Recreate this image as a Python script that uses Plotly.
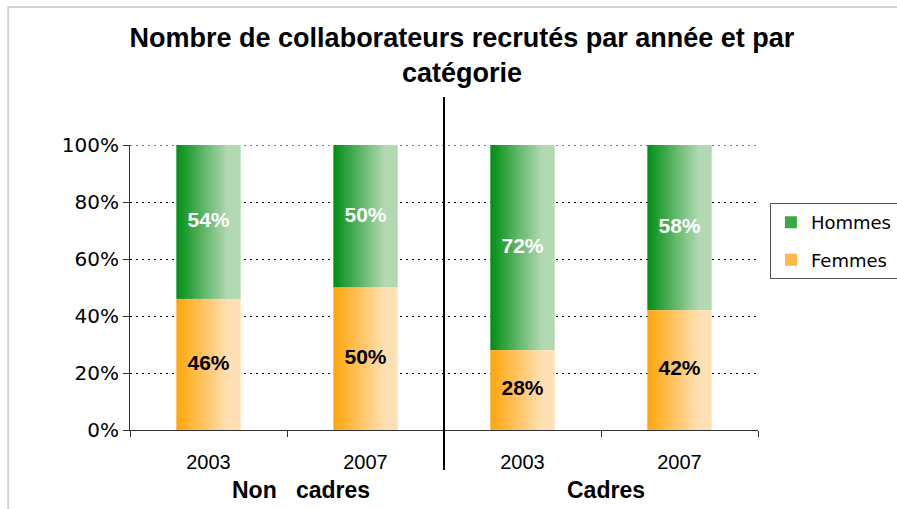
import plotly.graph_objects as go

# data
years = ["2003", "2007", "2003", "2007"]
groups = ["Non   cadres", "Cadres"]
femmes = [46, 50, 28, 42]
hommes = [54, 50, 72, 58]
yticks = [0, 20, 40, 60, 80, 100]

title = "Nombre de collaborateurs recrutés par année et par<br>catégorie"

xpos = list(range(len(years)))
bar_w = 0.41
n_slices = 24

green_dark, green_light = (0, 142, 20), (178, 217, 178)
orange_dark, orange_light = (255, 165, 10), (255, 224, 180)

sans = "Liberation Sans, Arial"


def mix(c1, c2, t):
    t = min(1.0, t / 0.8)
    return "rgb(%d,%d,%d)" % tuple(round(a + (b - a) * t) for a, b in zip(c1, c2))


fig = go.Figure()

# bars drawn as thin vertical slices to fake the Excel gradient fill
for name, vals, base, cols, rank in [
    ("Hommes", hommes, femmes, (green_dark, green_light), 1),
    ("Femmes", femmes, [0] * len(femmes), (orange_dark, orange_light), 2),
]:
    for i in range(n_slices):
        t = (i + 0.5) / n_slices
        fig.add_trace(go.Bar(
            x=xpos, y=vals, base=base,
            width=bar_w / n_slices * (1.0 if i == n_slices - 1 else 1.3),
            offset=-bar_w / 2 + i * bar_w / n_slices,
            marker=dict(color=mix(*cols, t), line_width=0),
            name=name, legendgroup=name, legendrank=rank,
            showlegend=(i == n_slices // 4),
            hoverinfo="skip",
        ))

fig.add_trace(go.Scatter(
    x=xpos, y=[b + v / 2 for b, v in zip(femmes, hommes)], mode="text",
    text=[f"{v}%" for v in hommes], showlegend=False, hoverinfo="skip",
    textfont=dict(family=sans, size=21, color="white", weight="bold"),
))
fig.add_trace(go.Scatter(
    x=xpos, y=[v / 2 for v in femmes], mode="text",
    text=[f"{v}%" for v in femmes], showlegend=False, hoverinfo="skip",
    textfont=dict(family=sans, size=21, color="black", weight="bold"),
))

fig.update_layout(
    width=897, height=509,
    barmode="overlay",
    plot_bgcolor="white", paper_bgcolor="white",
    margin=dict(l=130, r=139, t=145, b=79, autoexpand=False),
    title=dict(text=title, x=0.515, xanchor="center", y=0.908, yanchor="middle",
               font=dict(family=sans, size=27, color="black", weight="bold")),
    legend=dict(x=1.019, y=0.796, xanchor="left", yanchor="top",
                bordercolor="#555", borderwidth=1, bgcolor="white",
                font=dict(family="DejaVu Sans", size=18, color="black"),
                itemwidth=30, tracegroupgap=11, traceorder="grouped"),
    showlegend=True,
)

fig.update_xaxes(
    range=[-0.5, 3.5], tickvals=xpos, ticktext=years, ticks="",
    ticklabelstandoff=14,
    tickfont=dict(family=sans, size=20, color="black"),
    showline=True, linecolor="#333", linewidth=1, showgrid=False, zeroline=False,
    minor=dict(ticks="outside", tickvals=[-0.5, 0.5, 1.5, 2.5, 3.5],
               ticklen=6, tickcolor="#333", showgrid=False),
)
fig.update_yaxes(
    range=[0, 100], tickvals=yticks, ticktext=[f"{v}%" for v in yticks],
    ticks="outside", ticklen=6,
    tickcolor="#333", tickfont=dict(family="DejaVu Sans", size=20, color="black"),
    showline=True, linecolor="#333", linewidth=1, zeroline=False,
    showgrid=True, gridcolor="black", gridwidth=1, griddash="2px,4px",
)

# top gridline (plotly drops the one lying on the plot edge)
fig.add_shape(type="line", xref="paper", x0=0, x1=1, yref="y", y0=yticks[-1], y1=yticks[-1],
              line=dict(color="black", width=1, dash="2px,4px"), layer="below")

# group labels under the years
for gx, gtext in zip([0.59, 2.53], groups):
    fig.add_annotation(x=gx, xref="x", y=-0.21, yref="paper", yanchor="middle",
                       text=gtext, showarrow=False,
                       font=dict(family=sans, size=23, color="black", weight="bold"))

# separator between the two groups
fig.add_shape(type="line", xref="x", x0=1.5, x1=1.5, yref="paper", y0=-0.14, y1=1.168,
              line=dict(color="black", width=2))
# chart area border
fig.add_shape(type="rect", xref="paper", yref="paper", x0=-0.194, x1=2, y0=-1, y1=1.484,
              line=dict(color="#d4d4d4", width=2), layer="below")

fig.write_html("out.html", config={"displayModeBar": False},
               post_script="document.body.style.margin='0';")
